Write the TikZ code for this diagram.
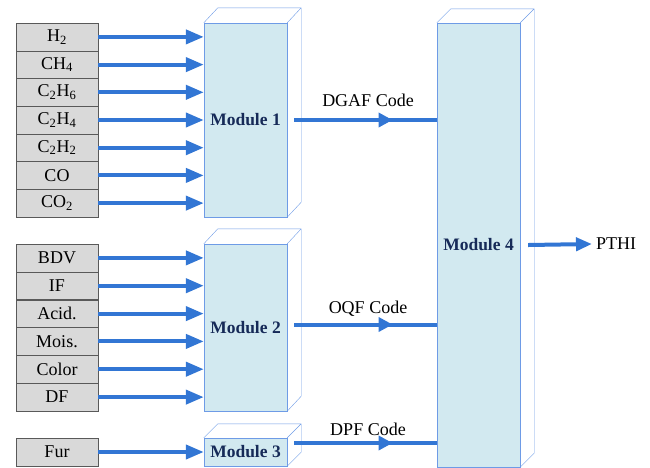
\documentclass[tikz,border=0pt]{standalone}
\usepackage{fontspec}
\setmainfont{Liberation Serif}
\usetikzlibrary{arrows.meta,decorations.markings}

\definecolor{flowblue}{RGB}{50,118,212}
\definecolor{modfill}{RGB}{210,233,240}
\definecolor{modline}{RGB}{110,155,230}
\definecolor{modtext}{RGB}{22,42,88}
\definecolor{infill}{RGB}{217,217,217}

\tikzset{
  input/.style={draw=black!65,fill=infill,minimum width=82pt,minimum height=27.7pt,
    inner sep=0pt,font=\fontsize{18}{21}\selectfont},
  module/.style={draw=modline,fill=modfill,minimum width=83pt,inner sep=0pt,
    text=modtext,font=\fontsize{17.5}{20}\selectfont\bfseries},
  modedge/.style={draw=modline},
  flow/.style={draw=flowblue,line width=4pt,-{Triangle[length=18pt,width=14pt]}},
  midflow/.style={draw=flowblue,line width=4pt,postaction={decorate},
    decoration={markings,mark=at position 0.69 with {\arrow[flowblue]{Triangle[length=14pt,width=14pt]}}}},
  codelabel/.style={font=\fontsize{18}{21}\selectfont}
}

\begin{document}
\begin{tikzpicture}[x=1pt,y=-1pt]
      \useasboundingbox (0,0) rectangle (650,467);

      % modules
      \node [module,minimum height=194pt] (mod1) at (245.5,120) {Module 1};
      \node [module,minimum height=167pt] (mod2) at (245.5,327.5) {Module 2};
      \node [module,minimum height=28pt] (mod3) at (245.5,452) {Module 3};
      \node [module,minimum height=444pt] (mod4) at (478.5,245) {Module 4};

      \draw [modedge] (mod1.north west) -- ++(14,-15) -| ([shift={(14,-15)}]mod1.south east) -- (mod1.south east) (mod1.north east) -- ++(14,-15);
      \draw [modedge] (mod2.north west) -- ++(14,-15) -| ([shift={(14,-15)}]mod2.south east) -- (mod2.south east) (mod2.north east) -- ++(14,-15);
      \draw [modedge] (mod3.north west) -- ++(14,-14) -| ([shift={(14,-14)}]mod3.south east) -- (mod3.south east) (mod3.north east) -- ++(14,-14);
      \draw [modedge] (mod4.north west) -- ++(14,-14) -| ([shift={(14,-14)}]mod4.south east) -- (mod4.south east) (mod4.north east) -- ++(14,-14);

      % gases
      \node [input] (h2) at (57,36.9) {H\textsubscript{2}};
      \node [input] (ch4) at (57,64.6) {CH\textsubscript{4}};
      \node [input] (c2h6) at (57,92.3) {C\textsubscript{2}H\textsubscript{6}};
      \node [input] (c2h4) at (57,120) {C\textsubscript{2}H\textsubscript{4}};
      \node [input] (c2h2) at (57,147.7) {C\textsubscript{2}H\textsubscript{2}};
      \node [input] (co) at (57,175.4) {CO};
      \node [input] (co2) at (57,203.1) {CO\textsubscript{2}};

      \draw [flow] (h2.east) -- (h2.east -| mod1.west);
      \draw [flow] (ch4.east) -- (ch4.east -| mod1.west);
      \draw [flow] (c2h6.east) -- (c2h6.east -| mod1.west);
      \draw [flow] (c2h4.east) -- (c2h4.east -| mod1.west);
      \draw [flow] (c2h2.east) -- (c2h2.east -| mod1.west);
      \draw [flow] (co.east) -- (co.east -| mod1.west);
      \draw [flow] (co2.east) -- (co2.east -| mod1.west);

      % oil quality
      \node [input] (bdv) at (57,257.9) {BDV};
      \node [input] (inf) at (57,285.7) {IF};
      \node [input] (acid) at (57,313.6) {Acid.};
      \node [input] (mois) at (57,341.4) {Mois.};
      \node [input] (color) at (57,369.2) {Color};
      \node [input] (df) at (57,397.1) {DF};

      \draw [flow] (bdv.east) -- (bdv.east -| mod2.west);
      \draw [flow] (inf.east) -- (inf.east -| mod2.west);
      \draw [flow] (acid.east) -- (acid.east -| mod2.west);
      \draw [flow] (mois.east) -- (mois.east -| mod2.west);
      \draw [flow] (color.east) -- (color.east -| mod2.west);
      \draw [flow] (df.east) -- (df.east -| mod2.west);

      % paper
      \node [input,minimum height=28pt] (fur) at (57,452) {Fur};
      \draw [flow] (fur.east) -- (fur.east -| mod3.west);

      % codes into module 4
      \coordinate (dgafin) at ([xshift=7pt]mod1.east);
      \coordinate (oqfin) at ([shift={(7,-3)}]mod2.east);
      \coordinate (dpfin) at ([shift={(7,-9)}]mod3.east);
      \draw [midflow] (dgafin) -- (dgafin -| mod4.west);
      \draw [midflow] (oqfin) -- (oqfin -| mod4.west);
      \draw [midflow] (dpfin) -- (dpfin -| mod4.west);

      \node [codelabel] (dgaf) at (368,100) {DGAF Code};
      \node [codelabel] (oqf) at (368,309) {OQF Code};
      \node [codelabel] (dpf) at (368,429) {DPF Code};

      \node [codelabel,anchor=west,inner sep=4pt] (pthi) at (592,244) {PTHI};
      \draw [flow,-{Triangle[length=16pt,width=13pt]}] ([xshift=8pt]mod4.east) -- (pthi.west);

    \end{tikzpicture}
\end{document}
